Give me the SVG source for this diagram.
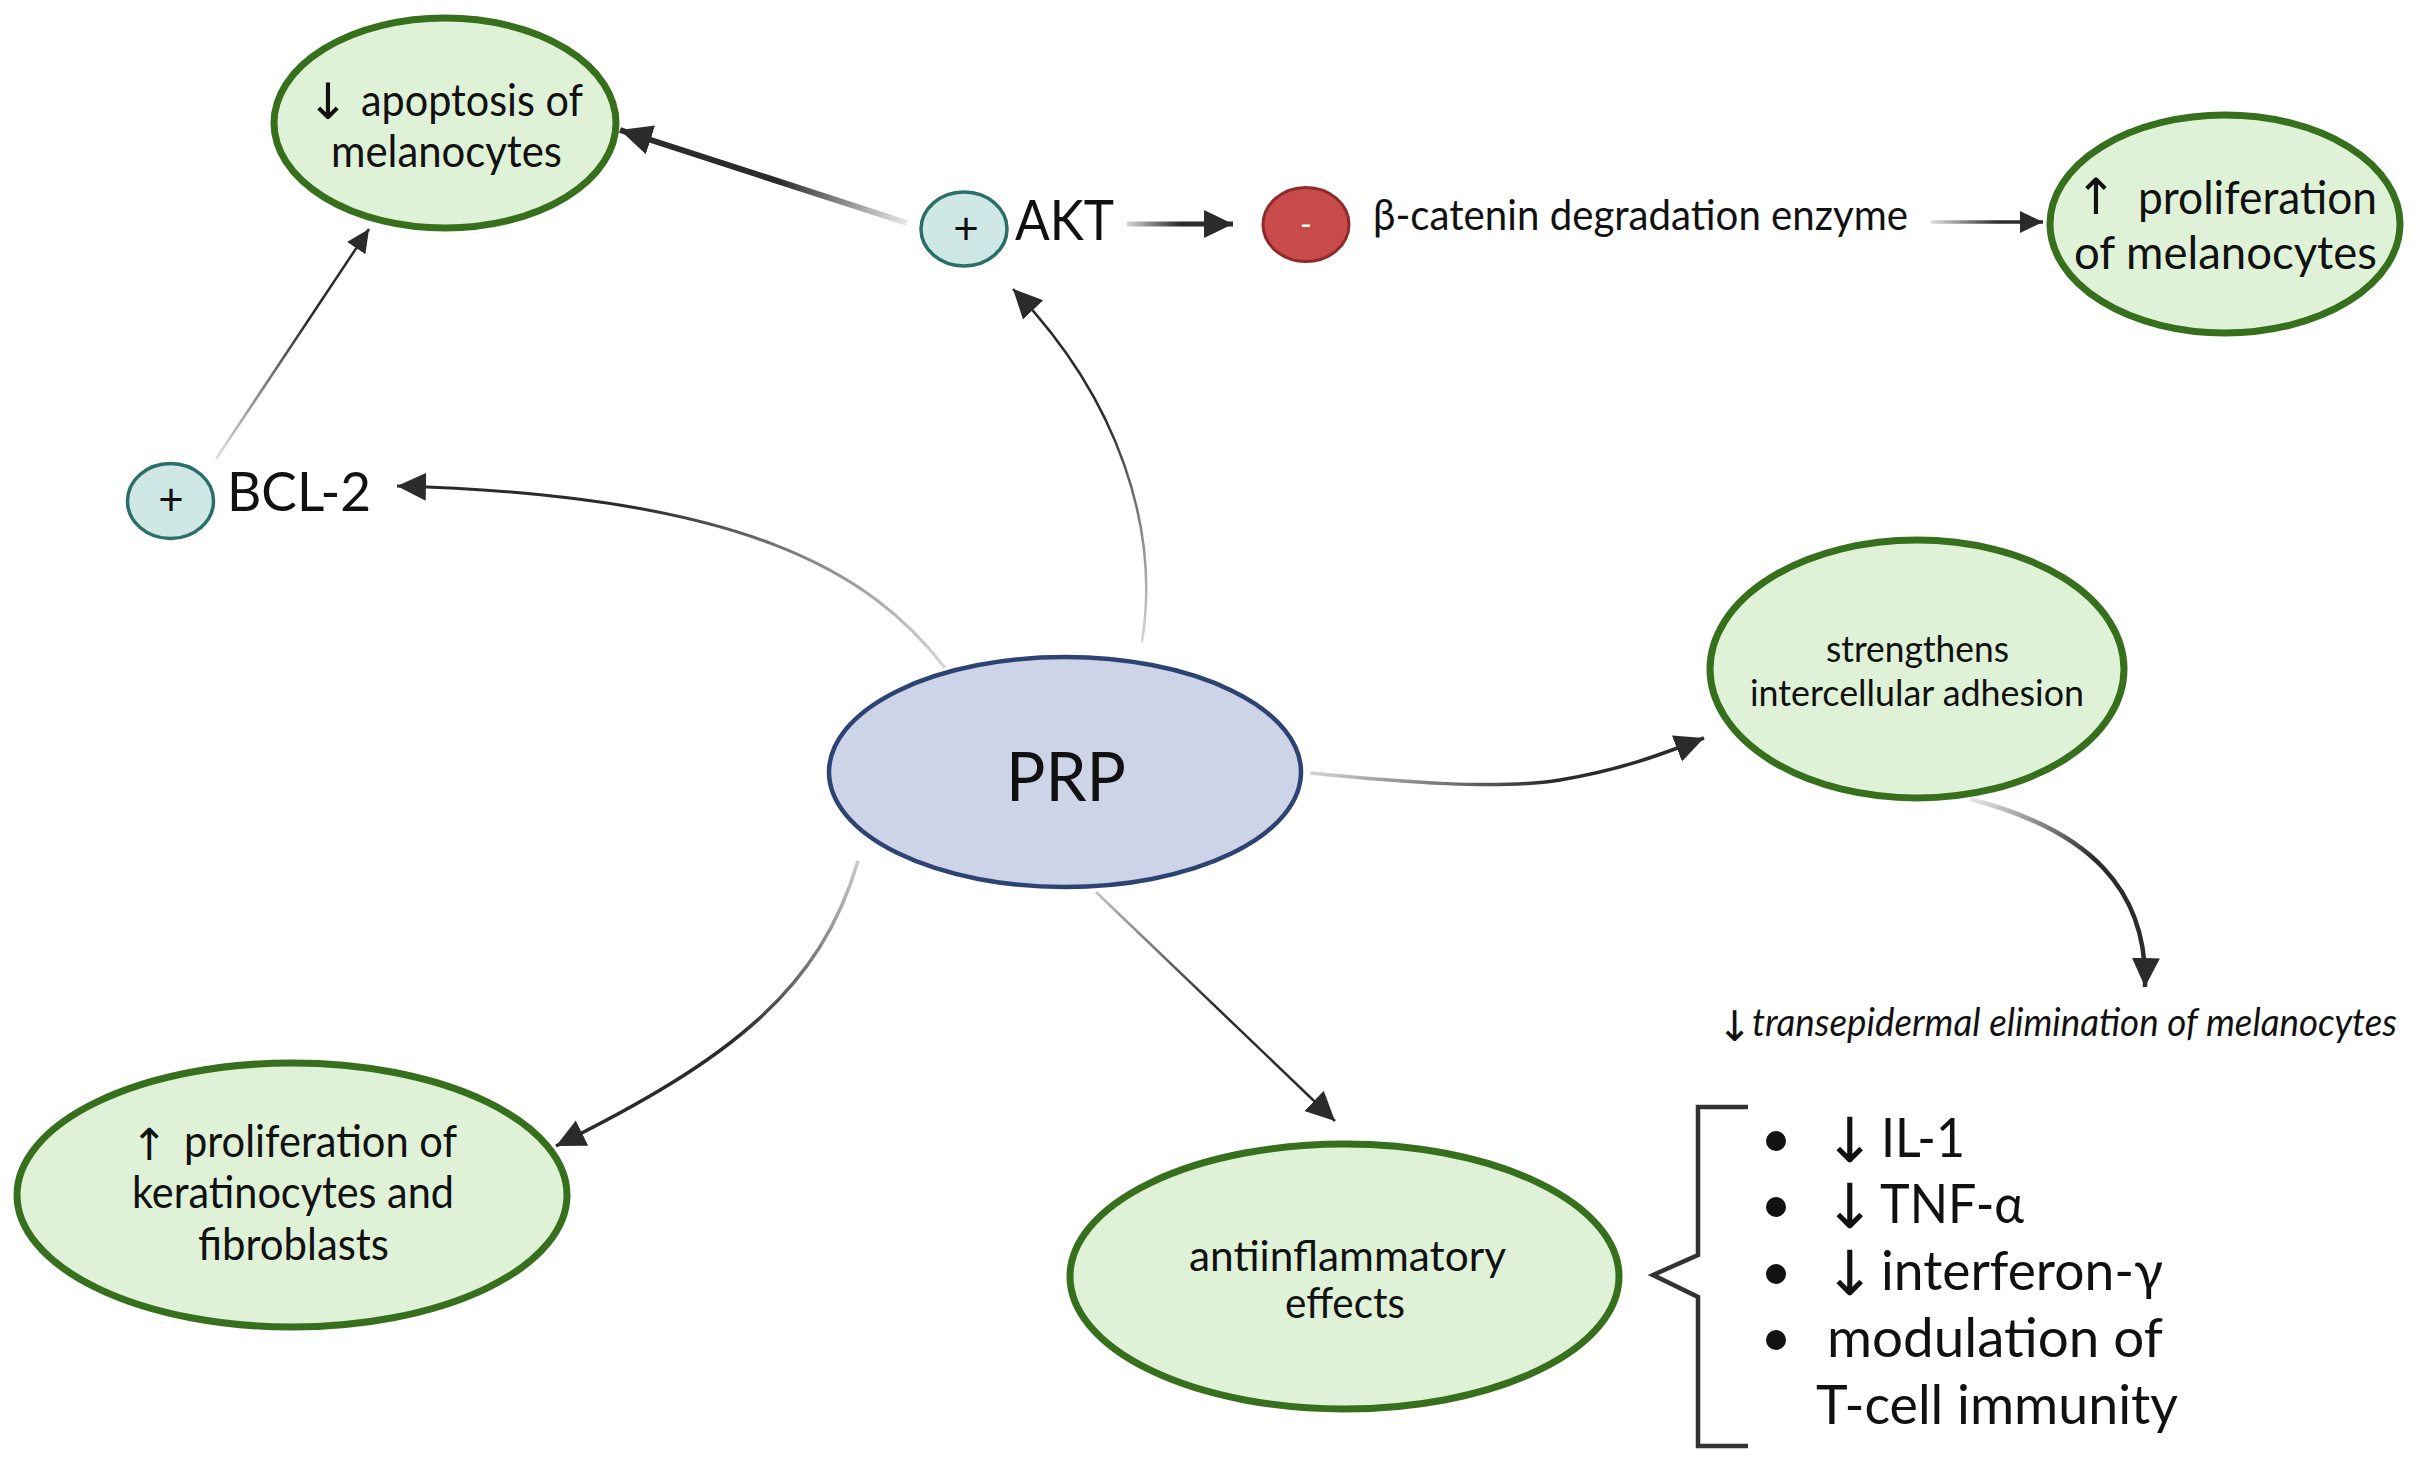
<svg xmlns="http://www.w3.org/2000/svg" width="2420" height="1465" viewBox="0 0 2420 1465">
<style>
text{font-family:"Lato","Liberation Sans",sans-serif;fill:#111}
.g{fill:#dff2d8;stroke:#37701c;stroke-width:7}
.t{fill:#cfe8e6;stroke:#2a6f68;stroke-width:3.5}
.c{fill:none;stroke-linecap:butt}
.a{font-family:"DejaVu Sans",sans-serif}
</style>
<defs>
<marker id="hL" markerUnits="userSpaceOnUse" markerWidth="34" markerHeight="32" refX="32" refY="16" orient="auto"><path d="M0 1L32 16L0 31Z" fill="#2b2b2b"/></marker>
<marker id="hM" markerUnits="userSpaceOnUse" markerWidth="32" markerHeight="30" refX="29" refY="15" orient="auto"><path d="M0 1L29 15L0 29Z" fill="#2b2b2b"/></marker>
<marker id="hS" markerUnits="userSpaceOnUse" markerWidth="26" markerHeight="24" refX="23" refY="12" orient="auto"><path d="M0 1L23 12L0 23Z" fill="#2b2b2b"/></marker>
<linearGradient id="g1" gradientUnits="userSpaceOnUse" x1="907" y1="223" x2="620" y2="130"><stop offset="0" stop-color="#2b2b2b" stop-opacity=".1"/><stop offset=".45" stop-color="#2b2b2b"/></linearGradient>
<linearGradient id="g2" gradientUnits="userSpaceOnUse" x1="216" y1="459" x2="369" y2="229"><stop offset="0" stop-color="#2b2b2b" stop-opacity=".15"/><stop offset=".6" stop-color="#2b2b2b"/></linearGradient>
<linearGradient id="g3" gradientUnits="userSpaceOnUse" x1="945" y1="668" x2="397" y2="486"><stop offset="0" stop-color="#2b2b2b" stop-opacity=".2"/><stop offset=".6" stop-color="#2b2b2b"/></linearGradient>
<linearGradient id="g4" gradientUnits="userSpaceOnUse" x1="1142" y1="642" x2="1013" y2="289"><stop offset="0" stop-color="#2b2b2b" stop-opacity=".2"/><stop offset=".6" stop-color="#2b2b2b"/></linearGradient>
<linearGradient id="g5" gradientUnits="userSpaceOnUse" x1="1127" y1="224" x2="1233" y2="224"><stop offset="0" stop-color="#2b2b2b" stop-opacity=".2"/><stop offset=".5" stop-color="#2b2b2b"/></linearGradient>
<linearGradient id="g6" gradientUnits="userSpaceOnUse" x1="1931" y1="222" x2="2043" y2="222"><stop offset="0" stop-color="#2b2b2b" stop-opacity=".15"/><stop offset=".6" stop-color="#2b2b2b"/></linearGradient>
<linearGradient id="g7" gradientUnits="userSpaceOnUse" x1="1310" y1="773" x2="1704" y2="738"><stop offset="0" stop-color="#2b2b2b" stop-opacity=".2"/><stop offset=".6" stop-color="#2b2b2b"/></linearGradient>
<linearGradient id="g8" gradientUnits="userSpaceOnUse" x1="1970" y1="799" x2="2145" y2="987"><stop offset="0" stop-color="#2b2b2b" stop-opacity=".1"/><stop offset=".5" stop-color="#2b2b2b"/></linearGradient>
<linearGradient id="g9" gradientUnits="userSpaceOnUse" x1="1096" y1="892" x2="1335" y2="1121"><stop offset="0" stop-color="#2b2b2b" stop-opacity=".3"/><stop offset=".5" stop-color="#2b2b2b"/></linearGradient>
<linearGradient id="g10" gradientUnits="userSpaceOnUse" x1="858" y1="861" x2="556" y2="1146"><stop offset="0" stop-color="#2b2b2b" stop-opacity=".25"/><stop offset=".5" stop-color="#2b2b2b"/></linearGradient>
</defs>
<rect width="2420" height="1465" fill="#fff"/>
<g id="connectors" class="c">
<path class="c" d="M907 223L620 130" stroke="url(#g1)" stroke-width="6" marker-end="url(#hL)"/>
<path class="c" d="M216 459L369 229" stroke="url(#g2)" stroke-width="2.500" marker-end="url(#hS)"/>
<path class="c" d="M945 668C870 570 740 495 397 486" stroke="url(#g3)" stroke-width="3" marker-end="url(#hM)"/>
<path class="c" d="M1142 642C1160 530 1120 400 1013 289" stroke="url(#g4)" stroke-width="2.500" marker-end="url(#hM)"/>
<path class="c" d="M1127 224L1233 224" stroke="url(#g5)" stroke-width="5" marker-end="url(#hM)"/>
<path class="c" d="M1931 222L2043 222" stroke="url(#g6)" stroke-width="3.500" marker-end="url(#hS)"/>
<path class="c" d="M1310 773C1400 782 1500 790 1560 780C1620 770 1660 755 1704 738" stroke="url(#g7)" stroke-width="3.500" marker-end="url(#hM)"/>
<path class="c" d="M1970 799C2090 830 2148 890 2145 987" stroke="url(#g8)" stroke-width="4.500" marker-end="url(#hM)"/>
<path class="c" d="M1096 892L1335 1121" stroke="url(#g9)" stroke-width="2.500" marker-end="url(#hM)"/>
<path class="c" d="M858 861C820 990 730 1060 556 1146" stroke="url(#g10)" stroke-width="3.500" marker-end="url(#hM)"/>
</g>
<g id="node-apoptosis">
<ellipse class="g" cx="445" cy="123" rx="171" ry="105"/>
<text font-size="44"><tspan class="a" font-size="50" x="307" y="119">↓</tspan><tspan x="361" y="116" textLength="222" lengthAdjust="spacingAndGlyphs">apoptosis of</tspan><tspan x="331" y="167" textLength="231" lengthAdjust="spacingAndGlyphs">melanocytes</tspan></text>
</g>
<g id="node-akt">
<ellipse class="t" cx="964" cy="229" rx="43" ry="37"/>
<text x="966" y="244" font-size="44" text-anchor="middle">+</text>
<text x="1015" y="240" font-size="56" textLength="99" lengthAdjust="spacingAndGlyphs">AKT</text>
</g>
<g id="node-bcl2">
<ellipse class="t" cx="170.500" cy="501" rx="43" ry="37.500"/>
<text x="171" y="515" font-size="44" text-anchor="middle">+</text>
<text x="227" y="511" font-size="55" textLength="144" lengthAdjust="spacingAndGlyphs">BCL-2</text>
</g>
<g id="node-catenin">
<ellipse cx="1306" cy="224.500" rx="43" ry="37" fill="#c94a4a" stroke="#8e2a2a" stroke-width="3"/>
<text x="1306" y="236" font-size="32" text-anchor="middle" style="fill:#fff">-</text>
<text x="1373" y="230" font-size="42" textLength="535" lengthAdjust="spacingAndGlyphs">β-catenin degradation enzyme</text>
</g>
<g id="node-proliferation-melanocytes">
<ellipse class="g" cx="2225" cy="224" rx="175" ry="109"/>
<text font-size="46"><tspan class="a" font-size="50" x="2075" y="214">↑</tspan><tspan x="2138" y="214" textLength="239" lengthAdjust="spacingAndGlyphs">proliferation</tspan><tspan x="2074" y="269" textLength="303" lengthAdjust="spacingAndGlyphs">of melanocytes</tspan></text>
</g>
<g id="node-prp">
<ellipse cx="1065" cy="772" rx="236" ry="115" fill="#cdd4e8" stroke="#2d4373" stroke-width="4.500"/>
<text x="1006" y="801" font-size="68" textLength="120" lengthAdjust="spacingAndGlyphs">PRP</text>
</g>
<g id="node-adhesion">
<ellipse class="g" cx="1917" cy="669" rx="207" ry="129"/>
<text font-size="37"><tspan x="1826" y="662" textLength="183" lengthAdjust="spacingAndGlyphs">strengthens</tspan><tspan x="1750" y="706" textLength="334" lengthAdjust="spacingAndGlyphs">intercellular adhesion</tspan></text>
</g>
<g id="node-elimination">
<text font-size="38" font-style="italic"><tspan class="a" font-size="42" x="1717" y="1041">↓</tspan><tspan x="1752" y="1036" textLength="645" lengthAdjust="spacingAndGlyphs">transepidermal elimination of melanocytes</tspan></text>
</g>
<g id="node-keratinocytes">
<ellipse class="g" cx="292" cy="1195" rx="275" ry="132"/>
<text font-size="44"><tspan class="a" font-size="44" x="131" y="1160">↑</tspan><tspan x="184" y="1157" textLength="273" lengthAdjust="spacingAndGlyphs">proliferation of</tspan><tspan x="132" y="1208" textLength="322" lengthAdjust="spacingAndGlyphs">keratinocytes and</tspan><tspan x="198" y="1260" textLength="191" lengthAdjust="spacingAndGlyphs">fibroblasts</tspan></text>
</g>
<g id="node-antiinflammatory">
<ellipse class="g" cx="1344.500" cy="1276.500" rx="274.500" ry="132.500"/>
<text font-size="42"><tspan x="1189" y="1271" textLength="317" lengthAdjust="spacingAndGlyphs">antiinflammatory</tspan><tspan x="1285" y="1318" textLength="120" lengthAdjust="spacingAndGlyphs">effects</tspan></text>
</g>
<g id="node-effects-list">
<path d="M1748 1107H1698V1255L1653 1275L1698 1297V1446H1748" fill="none" stroke="#333" stroke-width="4.500"/>
<g fill="#111"><circle cx="1776" cy="1141" r="10"/><circle cx="1776" cy="1207" r="10"/><circle cx="1776" cy="1274" r="10"/><circle cx="1776" cy="1340" r="10"/></g>
<text font-size="54"><tspan class="a" font-size="62" x="1824" y="1162">↓</tspan><tspan x="1881" y="1157" textLength="84" lengthAdjust="spacingAndGlyphs">IL-1</tspan><tspan class="a" font-size="62" x="1824" y="1228">↓</tspan><tspan x="1880" y="1223" textLength="144" lengthAdjust="spacingAndGlyphs">TNF-α</tspan><tspan class="a" font-size="62" x="1824" y="1295">↓</tspan><tspan x="1881" y="1290" textLength="282" lengthAdjust="spacingAndGlyphs">interferon-γ</tspan><tspan x="1827" y="1357" textLength="336" lengthAdjust="spacingAndGlyphs">modulation of</tspan><tspan x="1816" y="1424" textLength="362" lengthAdjust="spacingAndGlyphs">T-cell immunity</tspan></text>
</g>
</svg>
